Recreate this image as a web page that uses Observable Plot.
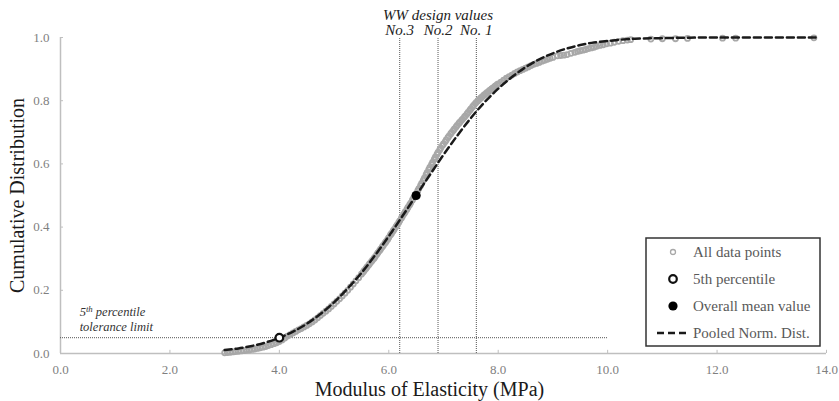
<!DOCTYPE html>
<html><head><meta charset="utf-8">
<script src="https://cdn.jsdelivr.net/npm/d3@7"></script>
<script src="https://cdn.jsdelivr.net/npm/@observablehq/plot@0.6"></script>
<style>
body{margin:0;background:#fff;}
#chart{position:relative;width:839px;height:401px;}
</style></head><body><div id="chart"></div>
<script>
// ---- data ----
const xTicks = [0, 2, 4, 6, 8, 10, 12, 14];
const yTicks = [0, 0.2, 0.4, 0.6, 0.8, 1.0];
const designValues = [
  {x: 6.2, label: "No.3"},
  {x: 6.9, label: "No.2"},
  {x: 7.6, label: "No. 1"}
];
const designTitle = "WW design values";
const percentile5 = [{x: 4.0, p: 0.05}];
const meanValue = [{x: 6.5, p: 0.5}];
const toleranceLimit = 0.05;
const toleranceExtent = [0, 10];
const toleranceText = [
  {x: 0.35, p: 0.12, text: "5th percentile"},
  {x: 0.35, p: 0.07, text: "tolerance limit"}
];
const legendItems = ["All data points", "5th percentile", "Overall mean value", "Pooled Norm. Dist."];

// pooled normal distribution
const normX = [3.0, 3.25, 3.5, 3.75, 4.0, 4.25, 4.5, 4.75, 5.0, 5.25, 5.5, 5.75, 6.0, 6.25, 6.5, 6.75, 7.0, 7.25, 7.5, 7.75, 8.0, 8.25, 8.5, 8.75, 9.0, 9.25, 9.5, 9.75, 10.0, 10.5, 11.0, 11.5, 12.0, 13.8];
const normP = [0.011, 0.016, 0.024, 0.035, 0.050, 0.069, 0.094, 0.125, 0.162, 0.206, 0.255, 0.311, 0.371, 0.435, 0.500, 0.565, 0.629, 0.689, 0.745, 0.795, 0.838, 0.875, 0.906, 0.931, 0.950, 0.965, 0.976, 0.984, 0.989, 0.996, 0.998, 0.9995, 0.9999, 1.0];

// all data points [MOE, cumulative fraction]
const allPoints = [
[3.00,0.002],[3.05,0.003],[3.10,0.004],[3.15,0.005],[3.20,0.006],[3.25,0.007],[3.30,0.008],[3.35,0.009],[3.40,0.010],[3.45,0.011],
[3.50,0.013],[3.55,0.014],[3.60,0.016],[3.65,0.018],[3.70,0.020],[3.75,0.022],[3.80,0.025],[3.85,0.028],[3.90,0.031],[3.95,0.034],
[4.00,0.038],[4.05,0.043],[4.10,0.049],[4.15,0.055],[4.20,0.060],[4.25,0.065],[4.30,0.070],[4.35,0.075],[4.40,0.079],[4.45,0.084],
[4.50,0.089],[4.55,0.094],[4.60,0.100],[4.65,0.106],[4.70,0.113],[4.75,0.120],[4.80,0.127],[4.85,0.134],[4.90,0.141],[4.95,0.149],
[5.00,0.157],[5.05,0.165],[5.10,0.173],[5.15,0.182],[5.20,0.191],[5.25,0.200],[5.30,0.210],[5.35,0.220],[5.40,0.230],[5.45,0.240],
[5.50,0.251],[5.53,0.257],[5.55,0.262],[5.58,0.268],[5.60,0.273],[5.63,0.279],[5.65,0.284],[5.68,0.290],[5.70,0.295],[5.73,0.301],
[5.75,0.306],[5.78,0.313],[5.80,0.318],[5.83,0.325],[5.85,0.330],[5.88,0.337],[5.90,0.342],[5.93,0.349],[5.95,0.354],[5.98,0.361],
[6.00,0.367],[6.03,0.375],[6.05,0.380],[6.08,0.388],[6.10,0.393],[6.13,0.401],[6.15,0.406],[6.18,0.414],[6.20,0.420],[6.23,0.428],
[6.25,0.434],[6.28,0.442],[6.30,0.448],[6.33,0.456],[6.35,0.462],[6.38,0.470],[6.40,0.476],[6.43,0.485],[6.45,0.491],[6.48,0.500],
[6.50,0.506],[6.53,0.515],[6.55,0.522],[6.58,0.531],[6.60,0.538],[6.63,0.548],[6.65,0.555],[6.68,0.565],[6.70,0.572],[6.73,0.582],
[6.75,0.589],[6.78,0.598],[6.80,0.605],[6.83,0.614],[6.85,0.621],[6.88,0.630],[6.90,0.636],[6.93,0.644],[6.95,0.650],[6.98,0.658],
[7.00,0.663],[7.03,0.670],[7.05,0.676],[7.08,0.683],[7.10,0.688],[7.13,0.695],[7.15,0.700],[7.18,0.706],[7.20,0.711],[7.23,0.717],
[7.25,0.722],[7.28,0.728],[7.30,0.732],[7.33,0.738],[7.35,0.742],[7.38,0.748],[7.40,0.752],[7.43,0.758],[7.45,0.763],[7.48,0.769],
[7.50,0.774],[7.53,0.780],[7.55,0.785],[7.58,0.791],[7.60,0.795],[7.63,0.800],[7.65,0.803],[7.68,0.808],[7.70,0.811],[7.73,0.816],
[7.75,0.819],[7.78,0.823],[7.80,0.826],[7.83,0.830],[7.85,0.833],[7.88,0.837],[7.90,0.840],[7.93,0.844],[7.95,0.847],[7.98,0.851],
[8.00,0.853],[8.05,0.859],[8.10,0.865],[8.15,0.871],[8.20,0.876],[8.25,0.881],[8.30,0.886],[8.35,0.891],[8.40,0.895],[8.45,0.899],
[8.50,0.903],[8.55,0.907],[8.60,0.911],[8.65,0.915],[8.70,0.918],[8.75,0.921],[8.80,0.925],[8.85,0.928],[8.90,0.931],[8.95,0.934],
[9.00,0.937],[9.08,0.942],[9.14,0.943],[9.20,0.944],[9.26,0.946],[9.33,0.950],[9.40,0.953],[9.45,0.956],[9.50,0.958],[9.55,0.960],
[9.60,0.962],[9.65,0.965],[9.70,0.967],[9.75,0.969],[9.80,0.972],[9.86,0.975],[9.92,0.977],[9.98,0.980],[10.05,0.982],[10.12,0.985],
[10.20,0.988],[10.28,0.990],[10.36,0.992],[10.42,0.993],[10.79,0.995],[11.00,0.996],[11.24,0.996],[11.46,0.997],[12.10,0.998],[12.34,0.998],
[13.77,0.999]
];

// ---- chart ----
const serif = "'Liberation Serif','Times New Roman',serif";
const axisGray = "#bfbfbf";
const labelGray = "#7f7f7f";
const normal = normX.map((x, i) => ({x, p: normP[i]}));

const plot = Plot.plot({
  width: 839, height: 401,
  marginLeft: 60, marginRight: 13, marginTop: 37, marginBottom: 48,
  style: {fontFamily: serif, background: "#fff"},
  x: {domain: [0, 14]},
  y: {domain: [0, 1]},
  marks: [
    Plot.axisX({ticks: xTicks, tickSize: 0, tickPadding: 11, tickFormat: d3.format(".1f"), fontSize: 13, fill: labelGray, label: null}),
    Plot.axisY({ticks: yTicks, tickSize: 0, tickPadding: 11, tickFormat: d3.format(".1f"), fontSize: 13, fill: labelGray, label: null}),
    Plot.ruleY([0], {x1: 0, x2: 14, stroke: axisGray, strokeWidth: 1.5}),
    Plot.ruleX([0], {y1: 0, y2: 1, stroke: axisGray, strokeWidth: 1.5}),
    Plot.ruleX(xTicks.slice(1), {y1: 0, y2: 0.01, stroke: axisGray}),
    Plot.ruleY(yTicks.slice(1), {x1: 0, x2: 0.055, stroke: axisGray}),
    // reference lines
    Plot.ruleX(designValues, {x: "x", y1: 0, y2: 1, stroke: "#555", strokeWidth: 1, strokeDasharray: "1,1"}),
    Plot.ruleY([toleranceLimit], {x1: toleranceExtent[0], x2: toleranceExtent[1], stroke: "#555", strokeWidth: 1, strokeDasharray: "1,1"}),
    // data
    Plot.dot(allPoints, {x: d => d[0], y: d => d[1], r: 2.5, stroke: "#a8a8a8", strokeWidth: 1.8, fill: "none"}),
    Plot.line(normal, {x: "x", y: "p", stroke: "#1a1a1a", strokeWidth: 2.5, strokeDasharray: "7,4", curve: "monotone-x"}),
    Plot.dot(percentile5, {x: "x", y: "p", r: 3.8, stroke: "#111", strokeWidth: 2.2, fill: "#fff"}),
    Plot.dot(meanValue, {x: "x", y: "p", r: 4.6, fill: "#000"}),
    // annotations
    Plot.text(designValues, {x: "x", y: () => 1, text: "label", dy: -3, lineAnchor: "bottom", fontStyle: "italic", fontSize: 15, fill: "#222"}),
    Plot.text([designTitle], {x: () => designValues[1].x, y: () => 1, dy: -18, lineAnchor: "bottom", fontStyle: "italic", fontSize: 15, fill: "#222"}),
    Plot.text(toleranceText, {x: "x", y: "p", text: "text", textAnchor: "start", lineAnchor: "bottom", fontStyle: "italic", fontSize: 12.5, fill: "#333"}),
    // axis titles
    Plot.text(["Cumulative Distribution"], {frameAnchor: "left", textAnchor: "middle", rotate: -90, dx: -43, fontSize: 20, fill: "#1a1a1a"}),
    Plot.text(["Modulus of Elasticity (MPa)"], {frameAnchor: "bottom", textAnchor: "middle", lineAnchor: "bottom", dy: 42, dx: -14, fontSize: 20, fill: "#1a1a1a"})
  ]
});

document.getElementById("chart").appendChild(plot);

// superscript "th" in "5th percentile"
d3.select(plot).selectAll("text").each(function() {
  const t = d3.select(this);
  if (this.textContent === "5th percentile" && this.childElementCount === 0) {
    t.text(null);
    t.append("tspan").text("5");
    t.append("tspan").attr("dy", "-0.4em").attr("font-size", "0.7em").text("th");
    t.append("tspan").attr("dy", "0.28em").text(" percentile");
  }
});

// legend (inside the plot area, lower right)
const svg = d3.select(plot);
const lg = svg.append("g").attr("font-family", serif).attr("font-size", 15).attr("text-anchor", "start");
lg.append("rect").attr("x", 646).attr("y", 238).attr("width", 174).attr("height", 108)
  .attr("fill", "#fff").attr("stroke", "#333").attr("stroke-width", 1.5);
const rowY = [252, 279, 306, 333];
const symX = 673;
lg.append("circle").attr("cx", symX).attr("cy", rowY[0]).attr("r", 2.5).attr("fill", "none").attr("stroke", "#a8a8a8").attr("stroke-width", 1.3);
lg.append("circle").attr("cx", symX).attr("cy", rowY[1]).attr("r", 3.8).attr("fill", "#fff").attr("stroke", "#111").attr("stroke-width", 2.2);
lg.append("circle").attr("cx", symX).attr("cy", rowY[2]).attr("r", 4.6).attr("fill", "#000");
lg.append("line").attr("x1", 657).attr("x2", 690).attr("y1", rowY[3]).attr("y2", rowY[3])
  .attr("stroke", "#1a1a1a").attr("stroke-width", 2.5).attr("stroke-dasharray", "7,4");
legendItems.forEach((s, i) => {
  lg.append("text").attr("x", 693).attr("y", rowY[i]).attr("dy", "0.32em").attr("text-anchor", "start").attr("fill", "#595959").text(s);
});
</script>
</body></html>
